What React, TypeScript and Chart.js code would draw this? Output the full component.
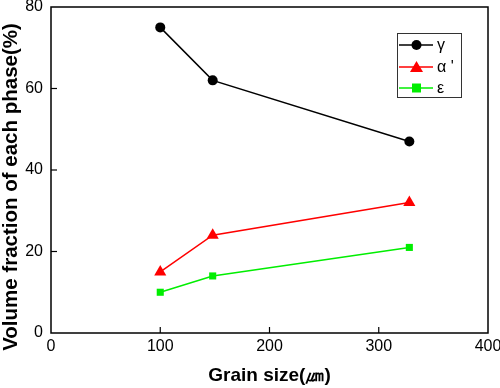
import React, { useEffect, useRef } from "react";
import { Chart, registerables } from "chart.js";

Chart.register(...registerables);

const grainSize = [100, 148, 328];
const gammaValues = [75, 62, 47];
const alphaValues = [15, 24, 32];
const epsilonValues = [10, 14, 21];
const seriesLabels = ["γ", "α '", "ε"];
const seriesColors = ["#000000", "#ff0000", "#00ee00"];
const xTitle = "Grain size(㎛)";
const yTitle = "Volume fraction of each phase(%)";

const FONT = "'Liberation Sans', Arial, sans-serif";

function drawMarker(ctx: CanvasRenderingContext2D, style: string, x: number, y: number, color: string) {
  ctx.save();
  ctx.fillStyle = color;
  ctx.beginPath();
  if (style === "circle") {
    ctx.arc(x, y, 5, 0, Math.PI * 2);
  } else if (style === "triangle") {
    ctx.moveTo(x, y - 6);
    ctx.lineTo(x + 6.5, y + 5);
    ctx.lineTo(x - 6.5, y + 5);
    ctx.closePath();
  } else {
    ctx.rect(x - 4.5, y - 4.5, 9, 9);
  }
  ctx.fill();
  ctx.restore();
}

const framePlugin = {
  id: "frameTicks",
  afterDatasetsDraw(chart: any) {
    const { ctx, scales } = chart;
    const xs = scales.x;
    const ys = scales.y;
    const left = xs.getPixelForValue(xs.min);
    const right = xs.getPixelForValue(xs.max);
    const top = ys.getPixelForValue(ys.max);
    const bottom = ys.getPixelForValue(ys.min);
    ctx.save();
    ctx.strokeStyle = "#000";
    ctx.lineWidth = 1.5;
    ctx.strokeRect(left, top, right - left, bottom - top);
    ctx.lineWidth = 1.2;
    const len = 6;
    xs.ticks.forEach((t: any) => {
      const px = xs.getPixelForValue(t.value);
      if (px <= left + 1 || px >= right - 1) return;
      ctx.beginPath();
      ctx.moveTo(px, bottom);
      ctx.lineTo(px, bottom - len);
      ctx.stroke();
    });
    ys.ticks.forEach((t: any) => {
      const py = ys.getPixelForValue(t.value);
      if (py <= top + 1 || py >= bottom - 1) return;
      ctx.beginPath();
      ctx.moveTo(left, py);
      ctx.lineTo(left + len, py);
      ctx.stroke();
    });
    // y axis title
    ctx.translate(11, 187);
    ctx.rotate(-Math.PI / 2);
    ctx.fillStyle = "#000";
    ctx.font = `bold 20.5px ${FONT}`;
    ctx.textAlign = "center";
    ctx.textBaseline = "middle";
    ctx.fillText(yTitle, 0, 0);
    ctx.restore();
  },
};

const legendPlugin = {
  id: "innerLegend",
  afterDraw(chart: any) {
    const { ctx } = chart;
    const bx = 397, by = 33, bw = 64, bh = 64;
    ctx.save();
    ctx.fillStyle = "#fff";
    ctx.fillRect(bx, by, bw, bh);
    ctx.strokeStyle = "#333";
    ctx.lineWidth = 1;
    ctx.strokeRect(bx + 0.5, by + 0.5, bw, bh);
    const rows = [45, 67, 88];
    chart.data.datasets.forEach((ds: any, i: number) => {
      const y = rows[i];
      ctx.strokeStyle = ds.borderColor;
      ctx.lineWidth = 1.5;
      ctx.beginPath();
      ctx.moveTo(399, y);
      ctx.lineTo(433, y);
      ctx.stroke();
      drawMarker(ctx, ds.pointStyle, 416.5, y, ds.borderColor);
      ctx.fillStyle = "#000";
      ctx.font = `16px ${FONT}`;
      ctx.textBaseline = "middle";
      ctx.textAlign = "left";
      ctx.fillText(ds.label, 437, y + 1);
    });
    ctx.restore();
  },
};

function zeroPadding(scale: any) {
  scale.paddingLeft = 0;
  scale.paddingRight = 0;
  scale.paddingTop = 0;
  scale.paddingBottom = 0;
}

export default function App() {
  const canvasRef = useRef<HTMLCanvasElement | null>(null);

  useEffect(() => {
    if (!canvasRef.current) return;
    const styles = ["circle", "triangle", "rect"];
    const values = [gammaValues, alphaValues, epsilonValues];
    const chart = new Chart(canvasRef.current, {
      type: "line",
      data: {
        datasets: values.map((vals, i) => ({
          label: seriesLabels[i],
          data: grainSize.map((x, j) => ({ x, y: vals[j] })),
          borderColor: seriesColors[i],
          backgroundColor: seriesColors[i],
          pointBackgroundColor: seriesColors[i],
          pointBorderColor: seriesColors[i],
          pointStyle: styles[i],
          pointRadius: i === 0 ? 5 : i === 1 ? 7 : 5,
          pointBorderWidth: 0,
          borderWidth: 1.5,
          tension: 0,
        })),
      },
      options: {
        animation: false,
        responsive: false,
        maintainAspectRatio: false,
        layout: { padding: { top: 7, right: 12, left: 0, bottom: 0 } },
        plugins: { legend: { display: false }, tooltip: { enabled: false } },
        scales: {
          x: {
            type: "linear",
            min: 0,
            max: 400,
            ticks: { stepSize: 100, color: "#000", font: { family: FONT, size: 16 }, padding: 4 },
            grid: { display: false, drawTicks: false },
            border: { display: false },
            title: {
              display: true,
              text: xTitle,
              color: "#000",
              font: { family: FONT, size: 19, weight: "bold" },
              padding: { top: 0, bottom: 1 },
            },
            afterFit(scale: any) {
              scale.height = 55;
              zeroPadding(scale);
            },
          },
          y: {
            type: "linear",
            min: 0,
            max: 80,
            ticks: { stepSize: 20, color: "#000", font: { family: FONT, size: 16 }, padding: 8 },
            grid: { display: false, drawTicks: false },
            border: { display: false },
            title: { display: false },
            afterFit(scale: any) {
              scale.width = 51;
              zeroPadding(scale);
            },
          },
        },
      } as any,
      plugins: [framePlugin, legendPlugin],
    });
    return () => chart.destroy();
  }, []);

  return (
    <div style={{ position: "fixed", left: 0, top: 0, width: 500, height: 388, background: "#fff" }}>
      <canvas ref={canvasRef} width={500} height={388} style={{ width: 500, height: 388 }} />
    </div>
  );
}
